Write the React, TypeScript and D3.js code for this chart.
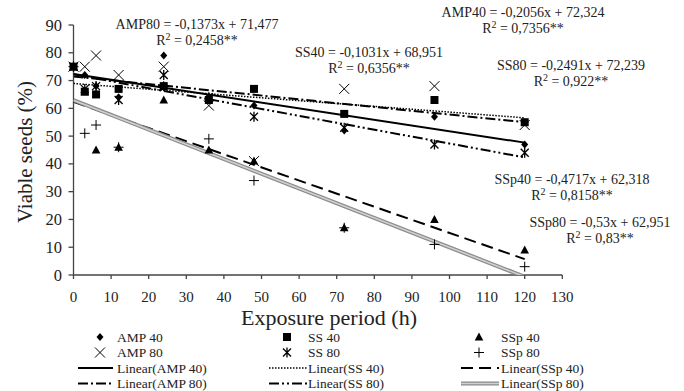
import React from "react";
import * as d3 from "d3";

const times = [0, 3, 6, 12, 24, 36, 48, 72, 96, 120];
const amp40 = [75, 72, 68, 64, 79, 63, 61, 52, 57, 47];
const amp80 = [75, 75, 79, 72, 75, 61, 41, 67, 68, 54];
const ss40 = [75, 66, 65, 67, 68, 63, 67, 58, 63, 55];
const ss80 = [75, 67, 68, 63, 72, 64, 57, 53, 47, 44];
const ssp40 = [75, 66, 45, 46, 63, 45, 41, 17, 20, 9];
const ssp80 = [75, 51, 54, 46, 68, 49, 34, 17, 11, 3];

const seriesNames = ["AMP 40", "AMP 80", "SS 40", "SS 80", "SSp 40", "SSp 80"];
const slopes = [-0.2056, -0.1373, -0.1031, -0.2491, -0.4717, -0.53];
const intercepts = [72.324, 71.477, 68.951, 72.239, 62.318, 62.951];
const eqLabels = [
  "AMP40 = -0,2056x + 72,324",
  "AMP80 = -0,1373x + 71,477",
  "SS40 = -0,1031x + 68,951",
  "SS80 = -0,2491x + 72,239",
  "SSp40 = -0,4717x + 62,318",
  "SSp80 = -0,53x + 62,951",
];
const r2Labels = ["0,7356**", "0,2458**", "0,6356**", "0,922**", "0,8158**", "0,83**"];
const xTicks = d3.range(0, 131, 10);
const yTicks = d3.range(0, 91, 10);

const FONT = "'Liberation Serif', 'Times New Roman', serif";

const x = d3.scaleLinear().domain([0, 130]).range([73.5, 562.3]);
const y = d3.scaleLinear().domain([0, 90]).range([275, 25]);

// annotation positions (center x, baseline y of equation)
const eqPos: [number, number][] = [
  [523, 17],
  [197, 29],
  [369, 57],
  [571, 70],
  [572, 184],
  [600, 227],
];

type MarkerKind = "diamond" | "x" | "square" | "star" | "triangle" | "plus";
const markerKinds: MarkerKind[] = ["diamond", "x", "square", "star", "triangle", "plus"];

function Marker({ kind, cx, cy }: { kind: MarkerKind; cx: number; cy: number }) {
  const s = 4;
  switch (kind) {
    case "diamond":
      return <path d={`M${cx},${cy - 4}L${cx + 3.5},${cy}L${cx},${cy + 4}L${cx - 3.5},${cy}Z`} fill="#000" />;
    case "square":
      return <rect x={cx - 4} y={cy - 4} width={8} height={8} fill="#000" />;
    case "triangle":
      return <path d={`M${cx},${cy - 4.5}L${cx + 4.3},${cy + 3.5}L${cx - 4.3},${cy + 3.5}Z`} fill="#000" />;
    case "x":
      return (
        <path d={`M${cx - 5},${cy - 5}L${cx + 5},${cy + 5}M${cx - 5},${cy + 5}L${cx + 5},${cy - 5}`} stroke="#000" strokeWidth={1} fill="none" />
      );
    case "star":
      return (
        <path
          d={`M${cx - s},${cy - s}L${cx + s},${cy + s}M${cx - s},${cy + s}L${cx + s},${cy - s}M${cx},${cy - 5}L${cx},${cy + 5}`}
          stroke="#000"
          strokeWidth={1.3}
          fill="none"
        />
      );
    case "plus":
      return <path d={`M${cx - 5},${cy}L${cx + 5},${cy}M${cx},${cy - 5}L${cx},${cy + 5}`} stroke="#000" strokeWidth={1} fill="none" />;
  }
}

const lineStyles = [
  { stroke: "#000", width: 2, dash: "" },
  { stroke: "#000", width: 2, dash: "10 3 2 3" },
  { stroke: "#000", width: 1.5, dash: "1.5 1.5" },
  { stroke: "#000", width: 2, dash: "10 3 2 3 2 3" },
  { stroke: "#000", width: 2, dash: "12 6" },
  { stroke: "gray", width: 0, dash: "" },
];

function TrendLine({ i, x1, x2, y1, y2 }: { i: number; x1: number; x2: number; y1: number; y2: number }) {
  const st = lineStyles[i];
  if (i === 5) {
    return (
      <g>
        <line x1={x1} y1={y1} x2={x2} y2={y2} stroke="#8a8a8a" strokeWidth={4} />
        <line x1={x1} y1={y1} x2={x2} y2={y2} stroke="#d0d0d0" strokeWidth={1.6} />
      </g>
    );
  }
  return <line x1={x1} y1={y1} x2={x2} y2={y2} stroke={st.stroke} strokeWidth={st.width} strokeDasharray={st.dash || undefined} />;
}

export default function App() {
  const series = [amp40, amp80, ss40, ss80, ssp40, ssp80];
  const legendCols = [
    { mx: 100, tx: 117, l1: 78, l2: 113 },
    { mx: 287, tx: 308, l1: 269, l2: 307 },
    { mx: 479, tx: 501, l1: 461, l2: 499 },
  ];
  const rowY = [337, 352.5, 368, 383.5];
  const xMax = 120;
  return (
    <svg width={684} height={391} style={{ position: "absolute", left: 0, top: 0, background: "#fff" }} fontFamily={FONT}>
      <defs>
        <clipPath id="plotClip">
          <rect x={x(0)} y={y(90)} width={x(130) - x(0)} height={y(0) - y(90)} />
        </clipPath>
      </defs>
      <rect width={684} height={391} fill="#fff" />

      {/* axes */}
      <line x1={x(0)} y1={y(0)} x2={x(130)} y2={y(0)} stroke="#444" strokeWidth={1.3} />
      <line x1={x(0)} y1={y(0)} x2={x(0)} y2={y(90)} stroke="#444" strokeWidth={1.3} />
      {yTicks.map((t) => (
        <g key={"y" + t}>
          <line x1={x(0) - 5} x2={x(0)} y1={y(t)} y2={y(t)} stroke="#444" strokeWidth={1.3} />
          <text x={62} y={y(t) + 5.5} textAnchor="end" fontSize={16.5} fill="#222">
            {t}
          </text>
        </g>
      ))}
      {xTicks.map((t) => (
        <g key={"x" + t}>
          <line x1={x(t)} x2={x(t)} y1={y(0)} y2={y(0) + 4} stroke="#444" strokeWidth={1.3} />
          <text x={x(t)} y={302} textAnchor="middle" fontSize={15} fill="#222">
            {t}
          </text>
        </g>
      ))}
      <text x={329} y={324.5} textAnchor="middle" fontSize={22} fill="#222">
        Exposure period (h)
      </text>
      <text transform={`translate(32,152) rotate(-90)`} textAnchor="middle" fontSize={21} fill="#222">
        Viable seeds (%)
      </text>

      {/* trend lines */}
      <g clipPath="url(#plotClip)">
        {slopes.map((m, i) => (
          <TrendLine key={"tl" + i} i={i} x1={x(0)} y1={y(intercepts[i])} x2={x(xMax)} y2={y(intercepts[i] + m * xMax)} />
        ))}
      </g>

      {/* points */}
      {series.map((vals, si) =>
        vals.map((v, j) => <Marker key={`m${si}-${j}`} kind={markerKinds[si]} cx={x(times[j])} cy={y(v)} />)
      )}

      {/* equations */}
      {eqLabels.map((lab, i) => (
        <g key={"eq" + i} fontSize={14} fill="#222">
          <text x={eqPos[i][0]} y={eqPos[i][1]} textAnchor="middle">
            {lab}
          </text>
          <text x={eqPos[i][0]} y={eqPos[i][1] + 15.5} textAnchor="middle">
            R<tspan fontSize={10} dy={-5}>2</tspan>
            <tspan dy={5}>{" = " + r2Labels[i]}</tspan>
          </text>
        </g>
      ))}

      {/* legend */}
      {seriesNames.map((name, i) => {
        const col = legendCols[Math.floor(i / 2)];
        const r = i % 2;
        return (
          <g key={"lg" + i}>
            <Marker kind={markerKinds[i]} cx={col.mx} cy={rowY[r]} />
            <text x={col.tx} y={rowY[r] + 4.5} fontSize={13.5} fill="#222">
              {name}
            </text>
            <TrendLine i={i} x1={col.l1} x2={col.l2} y1={rowY[2 + r]} y2={rowY[2 + r]} />
            <text x={col.tx} y={rowY[2 + r] + 4.5} fontSize={13.5} fill="#222">
              {`Linear(${name})`}
            </text>
          </g>
        );
      })}
    </svg>
  );
}
